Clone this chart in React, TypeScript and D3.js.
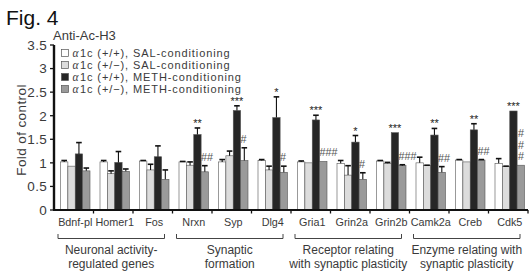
import * as d3 from 'd3';

// genes on the x axis
const genes = ['Bdnf-pl', 'Homer1', 'Fos', 'Nrxn', 'Syp', 'Dlg4', 'Gria1', 'Grin2a', 'Grin2b', 'Camk2a', 'Creb', 'Cdk5'];

// fold of control, one array per condition (+ SEM)
const salWT = [1.02, 1.02, 1.04, 1.02, 1.02, 1.05, 1.02, 0.99, 1.04, 1.0, 1.06, 0.99];
const salWTErr = [0.03, 0.03, 0.01, 0.01, 0.05, 0.02, 0.02, 0.06, 0.01, 0.12, 0.01, 0.1];
const salHet = [0.93, 0.77, 0.85, 0.95, 1.15, 0.85, 1.0, 0.74, 0.99, 0.94, 1.02, 0.92];
const salHetErr = [0, 0.06, 0.12, 0.07, 0.1, 0.08, 0, 0.2, 0.02, 0.01, 0, 0.01];
const methWT = [1.19, 1.01, 1.13, 1.6, 2.11, 1.96, 1.91, 1.44, 1.64, 1.59, 1.7, 2.1];
const methWTErr = [0.24, 0.23, 0.23, 0.14, 0.1, 0.44, 0.1, 0.14, 0, 0.14, 0.13, 0];
const methHet = [0.83, 0.82, 0.65, 0.81, 1.05, 0.8, 1.03, 0.65, 0.94, 0.8, 1.06, 0.95];
const methHetErr = [0.06, 0.05, 0.2, 0.13, 0.27, 0.13, 0, 0.14, 0.02, 0.12, 0.01, 0];

// significance marks
const stars = ['', '', '', '**', '***', '*', '***', '*', '***', '**', '**', '***'];
const hashes = ['', '', '', '##', '#', '#', '###', '#', '###', '##', '##', '###'];
const hashStacked = [false, false, false, false, false, false, false, false, false, false, false, true];

const legendLabels = ['1c (+/+), SAL-conditioning', '1c (+/\u2212), SAL-conditioning', '1c (+/+), METH-conditioning', '1c (+/\u2212), METH-conditioning'];
const yTicks = [0, 0.5, 1, 1.5, 2, 2.5, 3, 3.5];

const groups = [
  { from: 0, to: 2, lines: ['Neuronal activity-', 'regulated genes'] },
  { from: 3, to: 5, lines: ['Synaptic', 'formation'] },
  { from: 6, to: 8, lines: ['Receptor relating', 'with synaptic plasticity'] },
  { from: 9, to: 11, lines: ['Enzyme relating with', 'synaptic plasticity'] },
];

const series = [
  { key: 'salWT', values: salWT, err: salWTErr, fill: '#ffffff' },
  { key: 'salHet', values: salHet, err: salHetErr, fill: '#dcdcdc' },
  { key: 'methWT', values: methWT, err: methWTErr, fill: '#262626' },
  { key: 'methHet', values: methHet, err: methHetErr, fill: '#9a9a9a' },
];

const font = '"Liberation Sans", Arial, Helvetica, sans-serif';
const ink = '#3a3a3a';

export default function App() {
  const W = 531;
  const H = 273;
  const x0 = 54;
  const x1 = 528;
  const x = d3.scaleBand<string>().domain(genes).range([x0, x1]);
  const bw = x.bandwidth();
  const sub = d3.scaleBand<string>().domain(series.map(s => s.key)).range([6.5, 36]);
  const y = d3.scaleLinear().domain([0, 3.5]).range([210, 45]);
  const sw = sub.bandwidth();

  return (
    <div style={{ position: 'absolute', left: 0, top: 0 }}>
      <svg width={W} height={H} style={{ display: 'block', fontFamily: font }}>
        <rect width={W} height={H} fill="#fff" />
        <text x={6} y={25} fontSize={21} fill="#111">Fig. 4</text>

        {/* bars */}
        {series.map(s => (
          <g key={s.key}>
            {genes.map((g, i) => {
              const bx = (x(g) ?? 0) + (sub(s.key) ?? 0);
              const top = y(s.values[i]);
              const et = y(s.values[i] + s.err[i]);
              const cx = bx + sw / 2;
              return (
                <g key={g}>
                  <rect x={bx} y={top} width={sw} height={y(0) - top} fill={s.fill} stroke="#555" strokeWidth={0.6} />
                  {s.err[i] > 0 && (
                    <g stroke="#111" strokeWidth={1.1}>
                      <line x1={cx} x2={cx} y1={top} y2={et} />
                      <line x1={cx - 2.8} x2={cx + 2.8} y1={et} y2={et} strokeWidth={1.6} />
                    </g>
                  )}
                </g>
              );
            })}
          </g>
        ))}

        {/* stars over METH (+/+) */}
        {genes.map((g, i) => {
          if (!stars[i]) return null;
          const cx = (x(g) ?? 0) + (sub('methWT') ?? 0) + sw / 2;
          return (
            <text key={g} x={cx} y={y(methWT[i] + methWTErr[i]) - 1} fontSize={11} textAnchor="middle" fill="#222">
              {stars[i]}
            </text>
          );
        })}

        {/* hashes over METH (+/-) */}
        {genes.map((g, i) => {
          if (!hashes[i]) return null;
          const bx = (x(g) ?? 0) + (sub('methHet') ?? 0);
          const base = y(methHet[i] + methHetErr[i]) - 5;
          if (hashStacked[i]) {
            return (
              <g key={g}>
                {hashes[i].split('').map((h, k) => (
                  <text key={k} x={bx + sw / 2} y={base - k * 11.5} fontSize={11} fontStyle="italic" textAnchor="middle" fill="#555">
                    {h}
                  </text>
                ))}
              </g>
            );
          }
          return (
            <text key={g} x={bx - 0.5} y={base} fontSize={11} fontStyle="italic" fill="#555">
              {hashes[i]}
            </text>
          );
        })}

        {/* y axis */}
        <line x1={x0} x2={x0} y1={y(3.5)} y2={y(0)} stroke="#111" strokeWidth={2.4} />
        {yTicks.map(t => (
          <g key={t}>
            <line x1={x0 - 4} x2={x0} y1={y(t)} y2={y(t)} stroke="#111" strokeWidth={1.3} />
            <text x={47} y={y(t) + 4.8} fontSize={13.5} letterSpacing={0.3} textAnchor="end" fill={ink}>{t}</text>
          </g>
        ))}
        <text transform={`translate(25.5,130) rotate(-90)`} fontSize={13.5} letterSpacing={0.4} textAnchor="middle" fill={ink}>
          Fold of control
        </text>

        {/* x axis */}
        <line x1={x0 - 1} x2={x1} y1={y(0)} y2={y(0)} stroke="#111" strokeWidth={2.2} />
        {genes.map((g, i) => (
          <line key={g} x1={x0 + bw * (i + 1)} x2={x0 + bw * (i + 1)} y1={y(0)} y2={y(0) + 3.5} stroke="#111" strokeWidth={1.3} />
        ))}
        {genes.map(g => (
          <text key={g} x={(x(g) ?? 0) + bw / 2 + 1.5} y={226} fontSize={10.8} textAnchor="middle" fill={ink}>
            {g}
          </text>
        ))}

        {/* group brackets */}
        {groups.map(gr => {
          const a = (x(genes[gr.from]) ?? 0) + 4;
          const b = (x(genes[gr.to]) ?? 0) + bw - 8;
          const c = (a + b) / 2;
          return (
            <g key={gr.lines[0]}>
              <path d={`M${a},234V238.5H${b}V234`} fill="none" stroke="#444" strokeWidth={1} />
              <text x={c} y={254} fontSize={12} textAnchor="middle" fill={ink}>{gr.lines[0]}</text>
              <text x={c} y={268} fontSize={12} textAnchor="middle" fill={ink}>{gr.lines[1]}</text>
            </g>
          );
        })}

        {/* legend */}
        <text x={53} y={40} fontSize={13} fill={ink}>Anti-Ac-H3</text>
        {series.map((s, i) => {
          const cy = 53 + i * 12;
          return (
            <g key={s.key}>
              <rect x={61.5} y={cy - 3.5} width={7} height={7} fill={s.fill} stroke="#555" strokeWidth={0.7} />
              <text x={72.5} y={cy + 4} fontSize={11.5} fontFamily='"Liberation Serif", "DejaVu Serif", serif' fontStyle="italic" fill={ink}>α</text>
              <text x={80} y={cy + 4} fontSize={11} letterSpacing={0.9} fill={ink}>{legendLabels[i]}</text>
            </g>
          );
        })}
      </svg>
    </div>
  );
}
